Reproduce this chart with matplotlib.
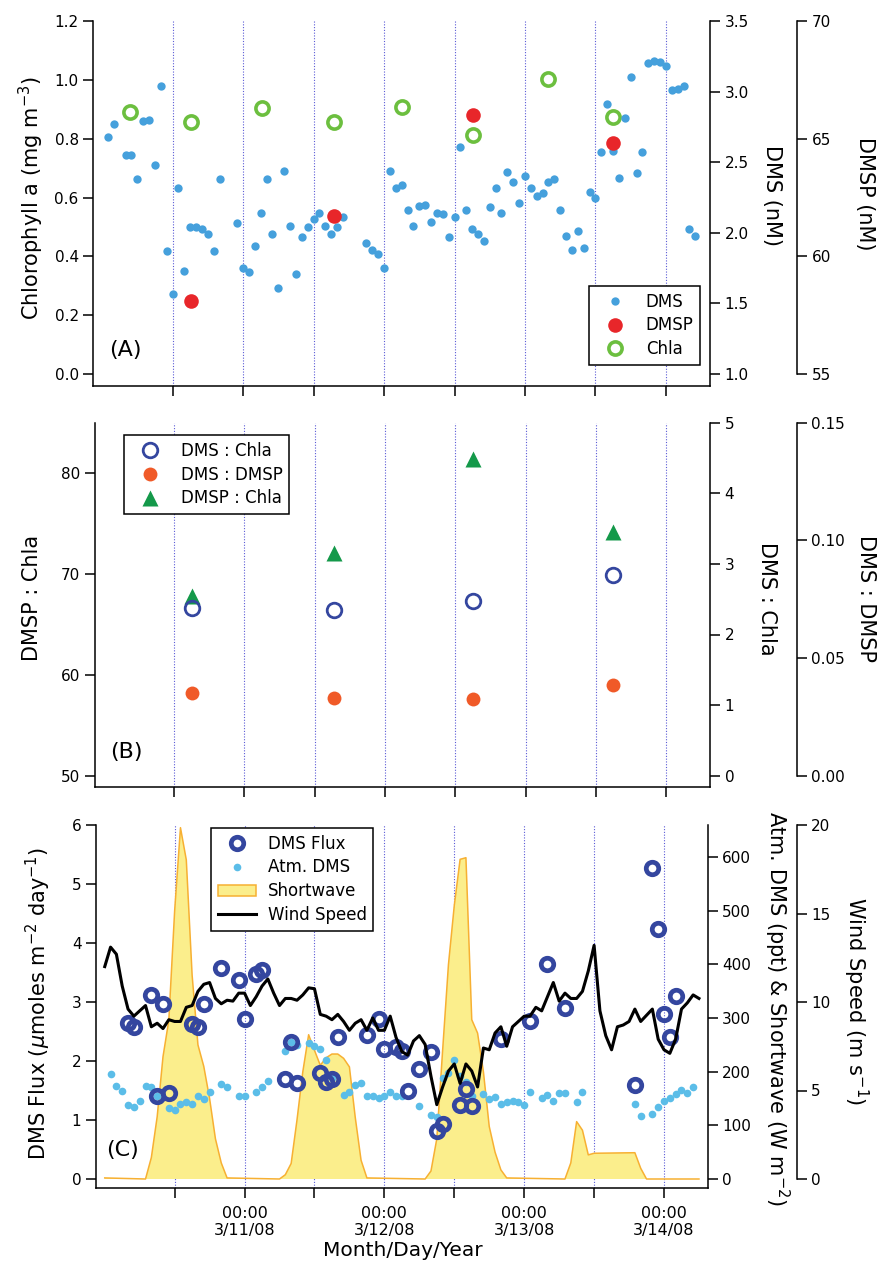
import matplotlib.pyplot as plt
from matplotlib.lines import Line2D
from matplotlib.patches import Patch
from matplotlib.ticker import FormatStrFormatter

# --- Data (time in hours relative to 00:00 3/11/08) ---
# Panel A: seawater DMS, DMSP and Chl a
dms_hours = [-23, -22, -20, -19, -18, -17, -16, -15, -14, -13, -12, -11, -10, -9, -8, -7,
             -6, -5, -4, -1, 0, 1, 2, 3, 4, 5, 6, 7, 8, 9, 10, 11, 12, 13, 14, 15, 16, 17,
             21, 22, 23, 24, 25, 26, 27, 28, 29, 30, 31, 32, 33, 34, 35, 36, 37, 38, 39,
             40, 41, 42, 43, 44, 45, 46, 47, 48, 49, 50, 51, 52, 53, 54, 55, 56, 57, 58,
             59, 60, 61, 62, 63, 64, 65, 66, 67, 68, 69, 70, 71, 72, 73, 74, 75, 76, 77]
dms_nm = [2.68, 2.77, 2.55, 2.55, 2.38, 2.79, 2.80, 2.48, 3.04, 1.87, 1.57, 2.32, 1.73, 2.04,
          2.04, 2.03, 1.99, 1.87, 2.38, 2.07, 1.75, 1.72, 1.91, 2.14, 2.38, 1.99, 1.61, 2.44,
          2.05, 1.71, 1.97, 2.04, 2.10, 2.14, 2.05, 1.99, 2.04, 2.11, 1.93, 1.88, 1.85, 1.75,
          2.44, 2.32, 2.34, 2.16, 2.05, 2.19, 2.20, 2.08, 2.14, 2.13, 1.97, 2.11, 2.61, 2.16,
          2.03, 1.99, 1.94, 2.18, 2.32, 2.14, 2.43, 2.36, 2.21, 2.40, 2.32, 2.26, 2.28, 2.36,
          2.38, 2.16, 1.98, 1.88, 2.01, 1.89, 2.29, 2.25, 2.57, 2.91, 2.58, 2.39, 2.81, 3.10,
          2.42, 2.57, 3.20, 3.22, 3.21, 3.18, 3.01, 3.02, 3.04, 2.03, 1.98]

dmsp_hours = [-8.9, 15.4, 39.1, 63.0]
dmsp_nm = [58.1, 61.7, 66.0, 64.8]

chla_hours = [-19.2, -8.9, 3.2, 15.4, 27.1, 39.1, 52.0, 63.0]
chla_mg = [0.89, 0.857, 0.903, 0.858, 0.907, 0.813, 1.004, 0.874]

# Panel B: ratios
ratio_hours = [-8.9, 15.3, 39.1, 63.0]
dmsp_chla = [67.8, 72.05, 81.4, 74.2]
dms_chla = [2.37, 2.35, 2.47, 2.84]
dms_dmsp = [0.0353, 0.0329, 0.0326, 0.0385]

# Panel C: flux, atmospheric DMS, shortwave and wind
flux_hours = [-20, -19, -16, -15, -14, -13, -9, -8, -7, -4, -1, 0, 2, 3, 7, 8, 9, 13, 14, 15,
              16, 21, 23, 24, 26, 27, 28, 30, 32, 33, 34, 37, 38, 39, 44, 49, 52, 55, 67, 70,
              71, 72, 73, 74]
flux = [2.65, 2.57, 3.12, 1.40, 2.96, 1.45, 2.62, 2.58, 2.97, 3.58, 3.37, 2.71, 3.48, 3.54,
        1.69, 2.33, 1.62, 1.79, 1.65, 1.69, 2.41, 2.44, 2.71, 2.20, 2.23, 2.17, 1.49, 1.86,
        2.15, 0.81, 0.93, 1.25, 1.52, 1.24, 2.38, 2.67, 3.64, 2.90, 1.59, 5.27, 4.24, 2.79,
        2.40, 3.11]

atm_hours = [-23, -22, -21, -20, -19, -18, -17, -16, -15, -13, -12, -11, -10, -9, -8, -7, -6,
             -4, -3, -1, 0, 2, 3, 4, 7, 8, 9, 11, 12, 13, 14, 15, 17, 18, 19, 20, 21, 22, 23,
             24, 25, 26, 27, 30, 32, 33, 34, 35, 36, 37, 38, 39, 41, 42, 43, 44, 45, 46, 47,
             48, 49, 51, 52, 53, 54, 55, 57, 58, 67, 68, 70, 71, 72, 73, 74, 75, 76, 77]
atm_ppt = [196, 173, 164, 138, 135, 146, 174, 172, 155, 132, 129, 140, 144, 139, 155, 149, 162,
           177, 171, 154, 155, 162, 172, 182, 239, 255, 249, 253, 248, 242, 221, 188, 157, 162,
           175, 179, 154, 154, 151, 154, 162, 155, 155, 137, 119, 116, 188, 198, 222, 192, 180,
           155, 158, 149, 152, 139, 144, 146, 144, 138, 162, 151, 157, 146, 161, 160, 144, 163,
           139, 118, 121, 134, 146, 151, 159, 166, 161, 172]

sw_hours = [-24, -17, -16, -15, -14, -13, -12, -11, -10, -9, -8, -7, -6, -5, -4, -3,
            6, 7, 8, 9, 10, 11, 12, 13, 14, 15, 16, 17, 18, 19, 20, 21,
            31, 32, 33, 34, 35, 36, 37, 38, 39, 40, 41, 42, 43, 44, 45,
            55, 56, 57, 58, 59, 60, 67, 68, 69, 78]
sw_wm2 = [2, 0, 40, 116, 228, 296, 500, 655, 595, 380, 250, 210, 150, 75, 30, 2,
          0, 8, 29, 110, 200, 269, 240, 212, 226, 233, 233, 225, 209, 115, 35, 2,
          0, 15, 75, 240, 400, 510, 596, 599, 297, 272, 200, 98, 50, 17, 2,
          0, 30, 107, 91, 45, 48, 49, 20, 0, 0]

wind_hours = [-24, -23, -22, -21, -20, -19, -18, -17, -16, -15, -14, -13, -12, -11, -10, -9,
              -8, -7, -6, -5, -4, -3, -2, -1, 0, 1, 2, 3, 4, 5, 6, 7, 8, 9, 10, 11, 12, 13,
              14, 15, 16, 17, 18, 19, 20, 21, 22, 23, 24, 25, 26, 27, 28, 29, 30, 31, 32, 33,
              34, 35, 36, 37, 38, 39, 40, 41, 42, 43, 44, 45, 46, 47, 48, 49, 50, 51, 52, 53,
              54, 55, 56, 57, 58, 59, 60, 61, 62, 63, 64, 65, 66, 67, 68, 69, 70, 71, 72, 73,
              74, 75, 76, 77, 78]
wind_ms = [12.0, 13.1, 12.7, 10.9, 9.6, 9.2, 9.5, 9.8, 8.6, 8.8, 8.5, 9.0, 8.9, 8.9, 9.7, 9.8,
           10.6, 11.0, 11.1, 10.2, 9.9, 10.1, 10.05, 10.5, 10.5, 9.8, 10.3, 10.9, 11.3, 10.5,
           9.8, 10.2, 10.2, 10.1, 10.4, 10.8, 10.75, 9.3, 9.2, 9.0, 9.3, 8.9, 8.4, 8.8, 9.0,
           8.4, 9.1, 8.4, 8.4, 9.2, 8.0, 7.2, 7.0, 7.8, 8.1, 7.6, 5.8, 4.2, 5.2, 6.1, 6.5, 5.4,
           6.5, 6.1, 5.2, 7.4, 7.3, 8.25, 8.6, 7.5, 8.6, 8.9, 9.2, 9.2, 9.7, 9.5, 10.3, 11.1,
           10.05, 10.5, 10.2, 10.2, 10.6, 11.75, 13.2, 9.5, 8.1, 7.3, 8.6, 8.7, 8.9, 9.6, 8.9,
           9.25, 9.6, 7.9, 7.3, 7.1, 7.9, 9.6, 9.95, 10.4, 10.2]

TICK_HOURS = [-12, 0, 12, 24, 36, 48, 60, 72]
TICK_LABELS = ["", "00:00\n3/11/08", "", "00:00\n3/12/08", "",
               "00:00\n3/13/08", "", "00:00\n3/14/08"]
XLIM = (-25.5, 79.5)

# --- Style ---
plt.rcParams.update({
    "font.family": "DejaVu Sans",
    "font.size": 11,
    "axes.linewidth": 1.1,
})
LABEL_FS = 15
TICK_FS = 11
LEGEND_FS = 12

C_DMS = "#45a0dc"
C_DMSP = "#e8262a"
C_CHLA = "#6cbf3f"
C_NAVY = "#34469f"
C_ORANGE = "#f05a28"
C_TRI = "#14994a"
C_ATM = "#5bbde8"
C_SW_FILL = "#fbee8c"
C_SW_EDGE = "#f7b032"
C_GRID = "#5b5bd6"

W, H = 878, 1261


def px_rect(left, top, right, bottom):
    return [left / W, 1 - bottom / H, (right - left) / W, (bottom - top) / H]


def padded(lo, hi, pad):
    return lo - (hi - lo) * pad, hi


def style(ax, side):
    ax.tick_params(direction="out", length=7.5, width=1.1, labelsize=TICK_FS, pad=3)
    for name, sp in ax.spines.items():
        sp.set_visible(name in side)


def vgrid(ax):
    for h in TICK_HOURS:
        ax.axvline(h, color=C_GRID, lw=0.8, ls=(0, (1, 1.5)), zorder=0)


def extra_axis(ax, offset, bounds):
    par = ax.twinx()
    style(par, ["right"])
    par.spines["right"].set_position(("axes", offset))
    par.spines["right"].set_bounds(*bounds)
    return par


def add_legend(ax, handles, labels, anchor):
    leg = ax.legend(handles, labels, loc="upper left", bbox_to_anchor=anchor,
                    borderaxespad=0, fontsize=LEGEND_FS, handlelength=2.3,
                    handletextpad=0.7, labelspacing=0.35, borderpad=0.4,
                    fancybox=False, framealpha=1, edgecolor="black")
    leg.get_frame().set_linewidth(1.1)
    return leg


fig = plt.figure(figsize=(W / 100, H / 100), dpi=100)

# ================= Panel A =================
ax_a = fig.add_axes(px_rect(93.3, 21, 710, 386))
pad_a = 12 / 353
style(ax_a, ["left", "bottom"])
vgrid(ax_a)
ax_a.plot(chla_hours, chla_mg, "o", ms=9.5, mfc="none", mec=C_CHLA, mew=2.6)
ax_a.set_ylim(*padded(0, 1.2, pad_a))
ax_a.set_yticks([0.0, 0.2, 0.4, 0.6, 0.8, 1.0, 1.2])
ax_a.yaxis.set_major_formatter(FormatStrFormatter("%.1f"))
ax_a.set_xlim(*XLIM)
ax_a.set_xticks(TICK_HOURS)
ax_a.set_xticklabels([])
ax_a.set_ylabel("Chlorophyll a (mg m$^{-3}$)", fontsize=LABEL_FS, va="center")
ax_a.yaxis.set_label_coords(-0.101, 0.514)
ax_a.text(0.052, 0.099, "(A)", transform=ax_a.transAxes, fontsize=16,
          ha="center", va="center")

ax_dms = ax_a.twinx()
style(ax_dms, ["right"])
ax_dms.plot(dms_hours, dms_nm, "o", ms=6, color=C_DMS, mec="none")
ax_dms.set_ylim(*padded(1.0, 3.5, pad_a))
ax_dms.set_yticks([1.0, 1.5, 2.0, 2.5, 3.0, 3.5])
ax_dms.yaxis.set_major_formatter(FormatStrFormatter("%.1f"))
ax_dms.set_ylabel("DMS (nM)", fontsize=LABEL_FS, rotation=270, va="center")
ax_dms.yaxis.set_label_coords(1.1005, 0.523)

ax_dmsp = extra_axis(ax_a, 1.141, (55, 70))
ax_dmsp.plot(dmsp_hours, dmsp_nm, "o", ms=10.5, color=C_DMSP, mec="none")
ax_dmsp.set_ylim(*padded(55, 70, pad_a))
ax_dmsp.set_yticks([55, 60, 65, 70])
ax_dmsp.set_ylabel("DMSP (nM)", fontsize=LABEL_FS, rotation=270, va="center")
ax_dmsp.yaxis.set_label_coords(1.2513, 0.526)

add_legend(ax_dmsp,
           [Line2D([], [], ls="none", marker="o", ms=6, color=C_DMS, mec="none"),
            Line2D([], [], ls="none", marker="o", ms=10.5, color=C_DMSP, mec="none"),
            Line2D([], [], ls="none", marker="o", ms=9.5, mfc="none", mec=C_CHLA, mew=2.6)],
           ["DMS", "DMSP", "Chla"], (0.804, 0.274))

# ================= Panel B =================
ax_b = fig.add_axes(px_rect(95, 422.7, 710, 786.7))
pad_b = 11 / 353
style(ax_b, ["left", "bottom"])
vgrid(ax_b)
ax_b.plot(ratio_hours, dmsp_chla, "^", ms=11.5, color=C_TRI, mec="none")
ax_b.set_ylim(*padded(50, 85, pad_b))
ax_b.set_yticks([50, 60, 70, 80])
ax_b.set_xlim(*XLIM)
ax_b.set_xticks(TICK_HOURS)
ax_b.set_xticklabels([])
ax_b.set_ylabel("DMSP : Chla", fontsize=LABEL_FS, va="center")
ax_b.yaxis.set_label_coords(-0.102, 0.518)
ax_b.text(0.0515, 0.096, "(B)", transform=ax_b.transAxes, fontsize=16,
          ha="center", va="center")

ax_dc = ax_b.twinx()
style(ax_dc, ["right"])
ax_dc.plot(ratio_hours, dms_chla, "o", ms=10.5, mfc="none", mec=C_NAVY, mew=2.0)
ax_dc.set_ylim(*padded(0, 5, pad_b))
ax_dc.set_yticks([0, 1, 2, 3, 4, 5])
ax_dc.set_ylabel("DMS : Chla", fontsize=LABEL_FS, rotation=270, va="center")
ax_dc.yaxis.set_label_coords(1.0927, 0.516)

ax_dd = extra_axis(ax_b, 1.141, (0, 0.15))
ax_dd.plot(ratio_hours, dms_dmsp, "o", ms=10, color=C_ORANGE, mec="none")
ax_dd.set_ylim(*padded(0, 0.15, pad_b))
ax_dd.set_yticks([0.0, 0.05, 0.10, 0.15])
ax_dd.yaxis.set_major_formatter(FormatStrFormatter("%.2f"))
ax_dd.set_ylabel("DMS : DMSP", fontsize=LABEL_FS, rotation=270, va="center")
ax_dd.yaxis.set_label_coords(1.2537, 0.516)

add_legend(ax_dd,
           [Line2D([], [], ls="none", marker="o", ms=10.5, mfc="none", mec=C_NAVY, mew=2.0),
            Line2D([], [], ls="none", marker="o", ms=10, color=C_ORANGE, mec="none"),
            Line2D([], [], ls="none", marker="^", ms=11.5, color=C_TRI, mec="none")],
           ["DMS : Chla", "DMS : DMSP", "DMSP : Chla"], (0.047, 0.966))

# ================= Panel C =================
ax_c = fig.add_axes(px_rect(96, 825, 707.7, 1188.3))
pad_c = 9.3 / 354
style(ax_c, ["left", "bottom"])
ax_c.set_zorder(2)
ax_c.patch.set_visible(False)
ax_c.plot(flux_hours, flux, "o", ms=9, mfc="none", mec=C_NAVY, mew=3.4)
ax_c.set_ylim(*padded(0, 6, pad_c))
ax_c.set_yticks([0, 1, 2, 3, 4, 5, 6])
ax_c.set_xlim(*XLIM)
ax_c.set_xticks(TICK_HOURS)
ax_c.set_xticklabels(TICK_LABELS, fontsize=11.5)
ax_c.tick_params(axis="x", pad=5)
ax_c.set_ylabel(r"DMS Flux ($\mu$moles m$^{-2}$ day$^{-1}$)", fontsize=LABEL_FS, va="center")
ax_c.yaxis.set_label_coords(-0.0948, 0.51)
ax_c.text(0.043, 0.105, "(C)", transform=ax_c.transAxes, fontsize=16,
          ha="center", va="center")

ax_sw = ax_c.twinx()
style(ax_sw, ["right"])
ax_sw.set_zorder(1)
vgrid(ax_sw)
ax_sw.fill_between(sw_hours, sw_wm2, 0, facecolor=C_SW_FILL, edgecolor="none", zorder=1)
ax_sw.plot(sw_hours, sw_wm2, color=C_SW_EDGE, lw=1.1, zorder=2)
ax_sw.plot(atm_hours, atm_ppt, "o", ms=5.5, color=C_ATM, mec="none", zorder=3)
ax_sw.set_ylim(*padded(0, 660, pad_c))
ax_sw.set_yticks([0, 100, 200, 300, 400, 500, 600])
ax_sw.set_ylabel("Atm. DMS (ppt) & Shortwave (W m$^{-2}$)", fontsize=LABEL_FS,
                 rotation=270, va="center")
ax_sw.yaxis.set_label_coords(1.1133, 0.496)

ax_wind = extra_axis(ax_c, 1.1455, (0, 20))
ax_wind.set_zorder(3)
ax_wind.plot(wind_hours, wind_ms, color="black", lw=2.2)
ax_wind.set_ylim(*padded(0, 20, pad_c))
ax_wind.set_yticks([0, 5, 10, 15, 20])
ax_wind.set_ylabel("Wind Speed (m s$^{-1}$)", fontsize=LABEL_FS, rotation=270, va="center")
ax_wind.yaxis.set_label_coords(1.2425, 0.514)

add_legend(ax_wind,
           [Line2D([], [], ls="none", marker="o", ms=9, mfc="none", mec=C_NAVY, mew=3.4),
            Line2D([], [], ls="none", marker="o", ms=5.5, color=C_ATM, mec="none"),
            Patch(facecolor=C_SW_FILL, edgecolor=C_SW_EDGE, lw=1.1),
            Line2D([], [], color="black", lw=2.2)],
           ["DMS Flux", "Atm. DMS", "Shortwave", "Wind Speed"], (0.188, 0.992))

fig.text(402.5 / W, 1 - 1260.5 / H, "Month/Day/Year", fontsize=14.5,
         ha="center", va="bottom")

fig.savefig("out.png", dpi=100, facecolor="white")
